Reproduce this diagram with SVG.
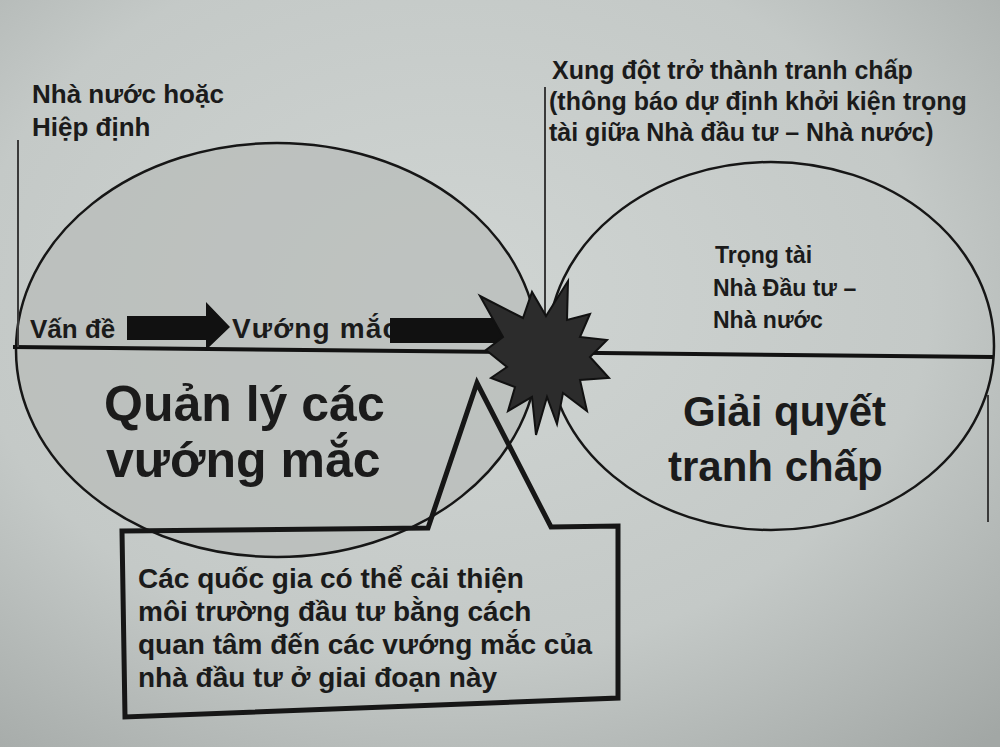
<svg xmlns="http://www.w3.org/2000/svg" width="1000" height="747" viewBox="0 0 1000 747">
<defs>
<radialGradient id="bg" cx="0.45" cy="0.4" r="0.8">
<stop offset="0" stop-color="#d0d5d3"/>
<stop offset="0.6" stop-color="#c4c9c7"/>
<stop offset="1" stop-color="#a2a7a5"/>
</radialGradient>
<style>
.t{font-family:"Liberation Sans",Arial,sans-serif;font-weight:bold;fill:#1b1b1b}
.s25{font-size:25px}.s26{font-size:26px}.s23{font-size:23px}.s28{font-size:28px}
.big{font-size:50px}.big2{font-size:42px}
.ell{stroke:#161616;stroke-width:2.5}
.vline{stroke:#3a3a3a;stroke-width:2;fill:none}
.arrow{fill:#111}
</style>
</defs>
<rect x="0" y="0" width="1000" height="747" fill="url(#bg)"/>

<g id="left-ellipse">
<ellipse cx="277" cy="350" rx="261" ry="207" fill="#b8bcba" fill-opacity="0.75" class="ell"/>
</g>
<g id="right-ellipse">
<ellipse cx="771" cy="346" rx="223" ry="184" fill="none" class="ell"/>
</g>

<g id="connectors">
<line x1="13" y1="347" x2="993" y2="357" stroke="#121212" stroke-width="4"/>
<line x1="18" y1="140" x2="18" y2="347" class="vline"/>
<line x1="545" y1="87" x2="545" y2="318" class="vline"/>
<line x1="988" y1="395" x2="988" y2="522" class="vline"/>
<polygon class="arrow" points="127,316 206,316 206,302 230,327 206,350 206,340 127,340"/>
</g>

<g id="left-labels">
<text class="t s26" x="32" y="103">Nhà nước hoặc</text>
<text class="t s26" x="32" y="136">Hiệp định</text>
<text class="t s26" x="30" y="338">Vấn đề</text>
<text class="t s28" x="232" y="338" textLength="166" lengthAdjust="spacing">Vướng mắc</text>
</g>

<g id="arrow2">
<polygon class="arrow" points="390,318 500,318 500,306 525,330 500,354 500,343 390,343"/>
</g>

<g id="star">
<polygon fill="#2c2c2c" stroke="#111" stroke-width="2" stroke-linejoin="miter" points="480,296 523,318 532,292 546,316 568,281 567,320 590,314 580,337 607,340 590,357 609,378 580,380 587,411 563,393 557,424 547,397 536,435 532,397 508,411 515,387 491,378 507,367 486,350 503,337"/>
</g>

<g id="main-labels">
<text class="t big" x="104" y="421">Quản lý các</text>
<text class="t big" x="106" y="477">vướng mắc</text>
<text class="t big2" x="683" y="426">Giải quyết</text>
<text class="t big2" x="668" y="481">tranh chấp</text>
</g>

<g id="dispute-label">
<text class="t s25" x="552" y="79">Xung đột trở thành tranh chấp</text>
<text class="t s25" x="549" y="110">(thông báo dự định khởi kiện trọng</text>
<text class="t s25" x="549" y="141">tài giữa Nhà đầu tư – Nhà nước)</text>
</g>

<g id="arbitration-label">
<text class="t s23" x="715" y="263">Trọng tài</text>
<text class="t s23" x="713" y="296">Nhà Đầu tư –</text>
<text class="t s23" x="713" y="328">Nhà nước</text>
</g>

<g id="callout">
<polygon fill="none" stroke="#161616" stroke-width="5" stroke-linejoin="miter" points="122,531 428,528 477,383 551,527 618,526 618,698 125,717"/>
<text class="t s28" x="138" y="588">Các quốc gia có thể cải thiện</text>
<text class="t s28" x="138" y="621">môi trường đầu tư bằng cách</text>
<text class="t s28" x="138" y="654">quan tâm đến các vướng mắc của</text>
<text class="t s28" x="138" y="687">nhà đầu tư ở giai đoạn này</text>
</g>
</svg>
